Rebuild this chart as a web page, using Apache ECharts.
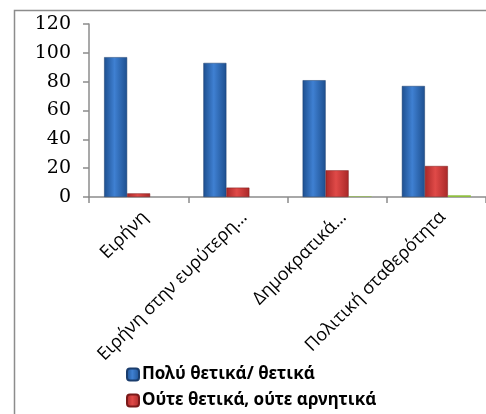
<!DOCTYPE html>
<html><head><meta charset="utf-8">
<script src="https://cdn.jsdelivr.net/npm/echarts@6/dist/echarts.min.js"></script>
<style>html,body{margin:0;padding:0;background:#fff}#c{width:486px;height:414px}</style>
</head><body><div id="c"></div>
<script>
const categories = ['Ειρήνη', 'Ειρήνη στην ευρύτερη…', 'Δημοκρατικά…', 'Πολιτική σταθερότητα'];
const positive = [97, 93, 81, 77];
const neutral = [2.5, 6.5, 18.5, 21.5];
const negative = [0, 0, 0.4, 1.2];
const seriesNames = ['Πολύ θετικά/ θετικά', 'Ούτε θετικά, ούτε αρνητικά', 'Αρνητικά'];
const yTicks = [0, 20, 40, 60, 80, 100, 120];

function grad(dark, light) {
  return new echarts.graphic.LinearGradient(0, 0, 1, 0, [
    {offset: 0, color: dark}, {offset: 0.45, color: light}, {offset: 1, color: dark}
  ]);
}
const chart = echarts.init(document.getElementById('c'), null, {renderer: 'canvas'});
chart.setOption({
  animation: false,
  graphic: [{type: 'polyline', shape: {points: [[14.5, 430], [14.5, 10.5], [500, 10.5]]}, style: {stroke: '#8c8c8c', lineWidth: 1.5, fill: null}}],
  grid: {left: 89, right: -11, top: 24, bottom: 217, containLabel: false},
  legend: {
    orient: 'vertical', left: 121, top: 361, itemWidth: 12, itemHeight: 12, itemGap: 9,
    data: [seriesNames[0], seriesNames[1]],
    textStyle: {fontFamily: 'Noto Sans', fontWeight: 'bold', fontSize: 17, color: '#000', padding: [0,0,0,-2]}
  },
  xAxis: {
    type: 'category', data: categories,
    axisLine: {lineStyle: {color: '#8c8c8c', width: 1.5}},
    axisTick: {show: true, length: 6, lineStyle: {color: '#8c8c8c', width: 1.5}},
    axisLabel: {rotate: 45, interval: 0, fontFamily: 'Open Sans', fontSize: 18, color: '#000', margin: 11, verticalAlign: 'top'}
  },
  yAxis: {
    type: 'value', min: 0, max: 120, interval: 20,
    splitLine: {show: false},
    axisLine: {show: true, lineStyle: {color: '#8c8c8c', width: 1.5}},
    axisTick: {show: true, length: 6, lineStyle: {color: '#8c8c8c', width: 1.5}},
    axisLabel: {fontFamily: 'DejaVu Serif', fontSize: 19, color: '#000', margin: 18,
      formatter: v => yTicks.includes(v) ? String(v) : ''}
  },
  series: [
    {name: seriesNames[0], type: 'bar', data: positive, barWidth: 23, barGap: '0%',
      itemStyle: {color: grad('#1d4f8f', '#3f80d2'), borderColor: '#1a3d6d', borderWidth: 0.5}},
    {name: seriesNames[1], type: 'bar', data: neutral, barWidth: 23, barGap: '0%',
      itemStyle: {color: grad('#a92828', '#e04a48'), borderColor: '#7a1a1a', borderWidth: 0.5}},
    {name: seriesNames[2], type: 'bar', data: negative, barWidth: 23, barGap: '0%',
      itemStyle: {color: '#8fbf3f'}}
  ]
});
</script></body></html>
